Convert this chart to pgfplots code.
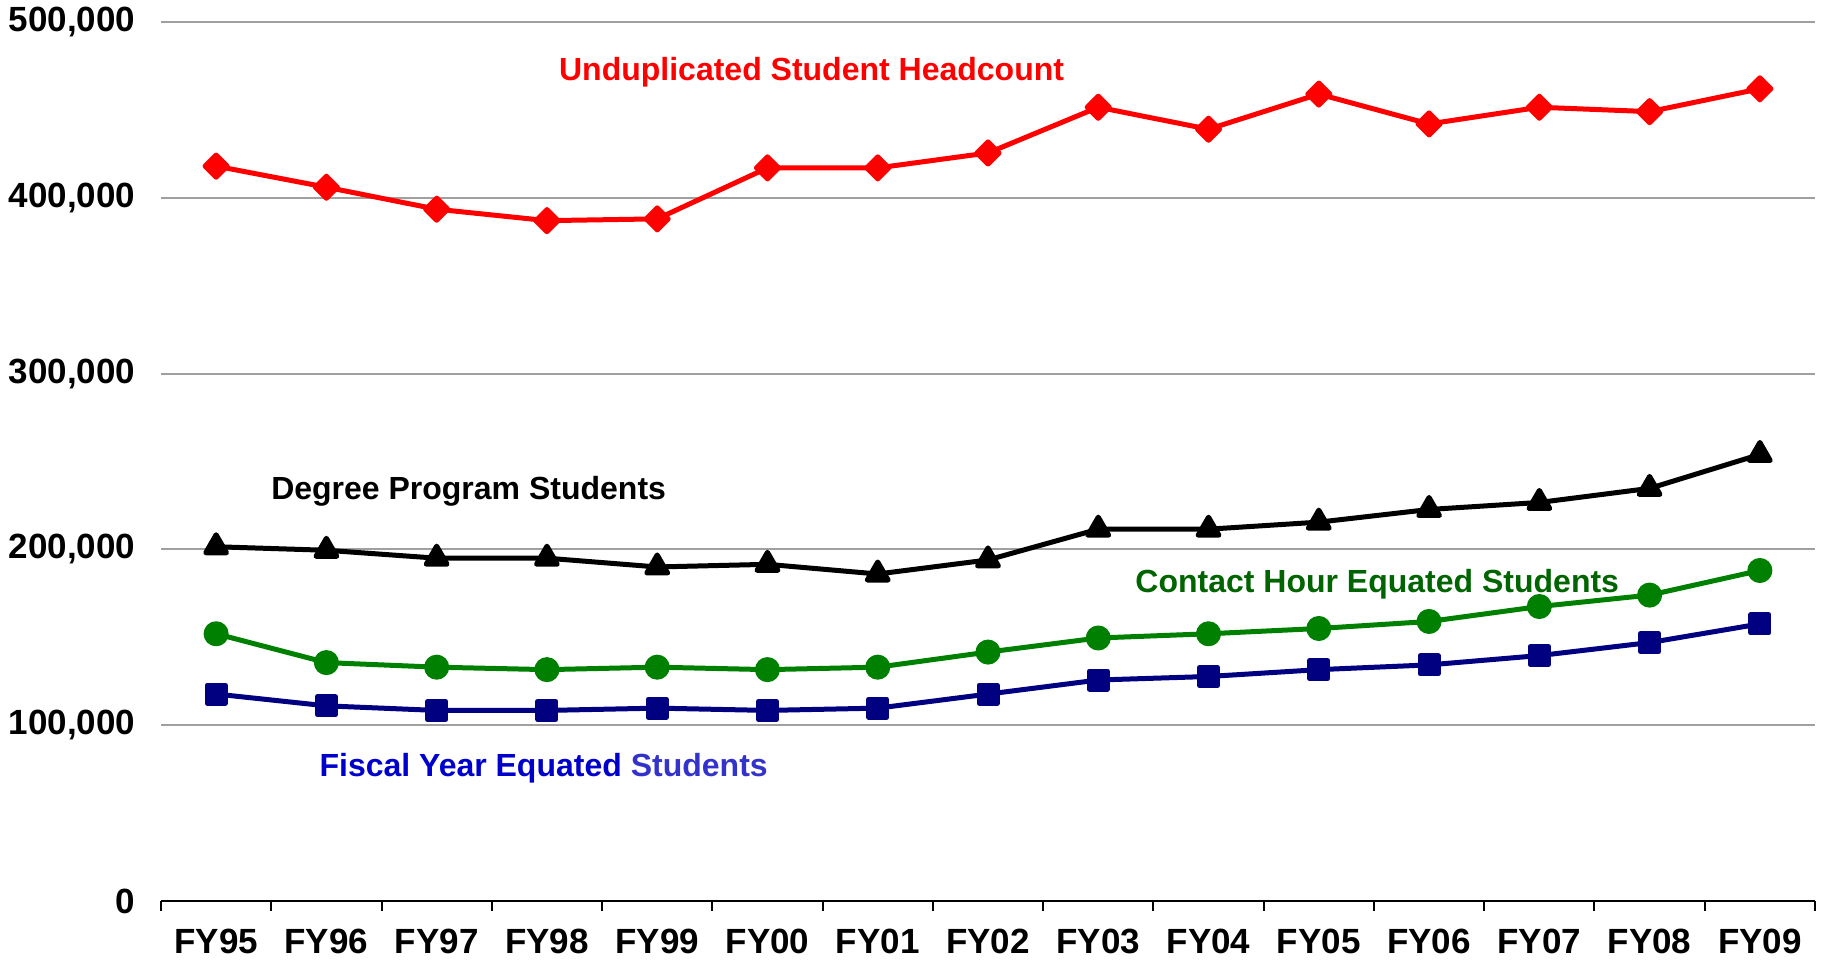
\documentclass[border=0pt]{standalone}
\usepackage{fontspec}
\setmainfont{Liberation Sans}
\usepackage{pgfplots}
\pgfplotsset{compat=1.18}
\definecolor{gridgray}{RGB}{160,160,160}
\definecolor{navyline}{RGB}{0,0,128}
\definecolor{greenline}{RGB}{0,128,0}
\definecolor{greenlabel}{RGB}{0,100,0}
\definecolor{bluelabel}{RGB}{0,0,204}
\definecolor{bluelabel2}{RGB}{51,51,204}
\begin{document}
\begin{tikzpicture}
\begin{axis}[
  scale only axis, width=827pt, height=439.5pt,
  xmin=-0.5, xmax=14.5, ymin=0, ymax=500000,
  clip=false,
  xtick={0,...,14},
  xticklabels={FY95,FY96,FY97,FY98,FY99,FY00,FY01,FY02,FY03,FY04,FY05,FY06,FY07,FY08,FY09},
  minor xtick={-0.5,0.5,...,14.5},
  major x tick style={draw=none},
  minor x tick style={line width=1pt, black},
  minor tick length=5pt, tick align=outside,
  ytick={0,100000,200000,300000,400000,500000},
  yticklabels={0,{100,000},{200,000},{300,000},{400,000},{500,000}},
  ymajorgrids, grid style={gridgray, line width=1pt},
  major y tick style={draw=none},
  axis x line*=bottom, axis y line*=left,
  y axis line style={draw=none},
  x axis line style={line width=1pt, -, black},
  scaled y ticks=false,
  ticklabel style={font=\fontsize{17.5}{20}\selectfont\bfseries},
  yticklabel style={xshift=-5pt},
  xticklabel style={yshift=-6pt},
  every axis plot/.append style={line width=2.5pt, line join=round},
]
\coordinate (sw) at (rel axis cs:0,0);
\coordinate (ne) at (rel axis cs:1,1);
\addplot[red, mark=square*, mark size=3.9pt, mark options={rotate=45, solid}] coordinates {
(0,418000) (1,406000) (2,393500) (3,387000) (4,388000) (5,417000) (6,417000) (7,425500)
(8,451500) (9,439000) (10,459000) (11,442000) (12,451500) (13,449000) (14,462000)};
\addplot[black, mark=triangle*, mark size=6pt, mark options={solid}] coordinates {
(0,201500) (1,199500) (2,195000) (3,195000) (4,190000) (5,191500) (6,186000) (7,194000)
(8,211500) (9,211500) (10,215500) (11,222700) (12,226700) (13,234700) (14,254000)};
\addplot[greenline, mark=*, mark size=5pt, mark options={solid, fill=greenline}] coordinates {
(0,152000) (1,135600) (2,133000) (3,131600) (4,133000) (5,131600) (6,133000) (7,141600)
(8,149600) (9,152000) (10,155000) (11,159000) (12,167500) (13,174000) (14,188000)};
\addplot[navyline, mark=square*, mark size=4.5pt, mark options={solid, fill=navyline}] coordinates {
(0,117700) (1,111000) (2,108400) (3,108400) (4,109700) (5,108400) (6,109700) (7,117700)
(8,125700) (9,127700) (10,131600) (11,134300) (12,139600) (13,147000) (14,157600)};
\node[font=\fontsize{16}{19}\selectfont\bfseries, text=red] at (axis cs:5.40,471300) {Unduplicated Student Headcount};
\node[font=\fontsize{16}{19}\selectfont\bfseries, text=black] at (axis cs:2.29,232900) {Degree Program Students};
\node[font=\fontsize{16}{19}\selectfont\bfseries, text=greenlabel] at (axis cs:10.53,180300) {Contact Hour Equated Students};
\node[font=\fontsize{16}{19}\selectfont\bfseries] at (axis cs:2.97,75400) {\textcolor{bluelabel}{Fiscal Year Equated} \textcolor{bluelabel2}{Students}};
\end{axis}
\pgfresetboundingbox
\path ([xshift=-80.5pt,yshift=-30.5pt]sw) rectangle ([xshift=8.5pt,yshift=11pt]ne);
\end{tikzpicture}
\end{document}
